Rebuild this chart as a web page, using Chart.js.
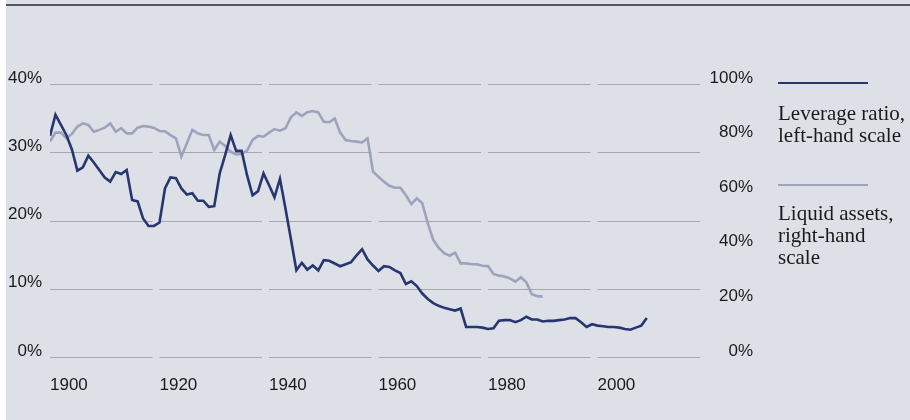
<!DOCTYPE html>
<html>
<head>
<meta charset="utf-8">
<script src="https://cdn.jsdelivr.net/npm/chart.js@4.4.1/dist/chart.umd.min.js"></script>
<style>
    html, body { margin: 0; padding: 0; background: #ffffff; }
    #wrap { position: relative; width: 910px; height: 420px; overflow: hidden; }
    #panel { position: absolute; left: 6px; top: 0; right: 0; bottom: 0; background: #dde0e7; }
    #rule { position: absolute; left: 6px; right: 0; top: 4px; height: 2px; background: #53575e; }
    #chart { position: absolute; left: 0; top: 0; }
    .swatch { position: absolute; left: 778px; width: 90px; height: 2px; }
    .keytext {
        position: absolute; left: 778px;
        font-family: "Liberation Serif", serif; font-size: 21px; line-height: 22px;
        color: #1a1a1a; white-space: nowrap;
    }
</style>
</head>
<body>
<div id="wrap">
    <div id="panel"></div>
    <div id="rule"></div>
    <canvas id="chart" width="910" height="420"></canvas>
    <div id="legend"></div>
</div>
<script>
// years of the annual observations
const years = [
    1900, 1901, 1902, 1903, 1904, 1905, 1906, 1907, 1908, 1909,
    1910, 1911, 1912, 1913, 1914, 1915, 1916, 1917, 1918, 1919,
    1920, 1921, 1922, 1923, 1924, 1925, 1926, 1927, 1928, 1929,
    1930, 1931, 1932, 1933, 1934, 1935, 1936, 1937, 1938, 1939,
    1940, 1941, 1942, 1943, 1944, 1945, 1946, 1947, 1948, 1949,
    1950, 1951, 1952, 1953, 1954, 1955, 1956, 1957, 1958, 1959,
    1960, 1961, 1962, 1963, 1964, 1965, 1966, 1967, 1968, 1969,
    1970, 1971, 1972, 1973, 1974, 1975, 1976, 1977, 1978, 1979,
    1980, 1981, 1982, 1983, 1984, 1985, 1986, 1987, 1988, 1989,
    1990, 1991, 1992, 1993, 1994, 1995, 1996, 1997, 1998, 1999,
    2000, 2001, 2002, 2003, 2004, 2005, 2006, 2007, 2008, 2009
];

// leverage ratio, % (left-hand scale)
const leverage = [
    32.4, 35.5, 34.0, 32.5, 30.4, 27.3, 27.8, 29.5, 28.5, 27.4,
    26.3, 25.7, 27.1, 26.8, 27.4, 23.0, 22.8, 20.3, 19.2, 19.2,
    19.7, 24.7, 26.3, 26.2, 24.7, 23.8, 24.0, 22.9, 22.9, 22.0,
    22.1, 26.9, 29.6, 32.5, 30.2, 30.2, 26.6, 23.7, 24.3, 26.9,
    25.2, 23.4, 26.1, 21.8, 17.3, 12.7, 13.8, 12.8, 13.4, 12.7,
    14.2, 14.1, 13.7, 13.3, 13.6, 13.9, 14.9, 15.8, 14.3, 13.4,
    12.6, 13.3, 13.2, 12.7, 12.3, 10.7, 11.1, 10.4, 9.3, 8.5,
    7.9, 7.5, 7.2, 7.0, 6.8, 7.1, 4.4, 4.4, 4.4, 4.3,
    4.1, 4.2, 5.3, 5.4, 5.4, 5.1, 5.4, 5.9, 5.5, 5.5,
    5.2, 5.3, 5.3, 5.4, 5.5, 5.7, 5.7, 5.1, 4.4, 4.8,
    4.6, 4.5, 4.4, 4.4, 4.3, 4.1, 4.0, 4.3, 4.6, 5.7
];

// liquid assets, % (right-hand scale), 1900-1990
const liquid = [
    78.9, 82.2, 82.2, 80.1, 81.7, 84.4, 85.6, 85.0, 82.5, 83.2,
    84.0, 85.6, 82.5, 83.8, 81.9, 81.9, 84.0, 84.6, 84.4, 83.9,
    82.8, 82.7, 81.3, 80.1, 73.4, 78.3, 83.2, 81.9, 81.3, 81.3,
    75.8, 78.9, 77.3, 75.2, 74.2, 74.4, 75.6, 79.5, 81.0, 80.7,
    82.2, 83.5, 82.9, 83.8, 87.8, 89.6, 88.3, 89.7, 90.1, 89.6,
    86.2, 86.0, 87.4, 82.2, 79.5, 79.1, 78.9, 78.6, 80.1, 67.9,
    66.0, 64.2, 62.7, 62.0, 62.0, 59.3, 56.0, 58.1, 56.3, 49.0,
    42.9, 40.0, 38.0, 37.1, 38.2, 34.3, 34.3, 34.0, 34.0, 33.4,
    33.3, 30.4, 29.8, 29.5, 28.8, 27.6, 29.2, 27.4, 23.0, 22.3,
    22.1
];

const xTicks = [1900, 1920, 1940, 1960, 1980, 2000];
const xEnd = 2020;
const leftTicks = [0, 10, 20, 30, 40];
const rightTicks = [0, 20, 40, 60, 80, 100];
const seriesNames = [['Leverage ratio,', 'left-hand scale'], ['Liquid assets,', 'right-hand', 'scale']];

document.addEventListener('DOMContentLoaded', function () {
    const colors = {
        navy: '#27366f',     // leverage line
        lilac: '#9ea3bd',    // liquid assets line
        grid: '#a6a7aa',
        text: '#1a1a1a'
    };
    const tickFont = { family: '"Liberation Sans", Arial, sans-serif', size: 17 };

    // horizontal grid, broken into one segment per 20-year block
    const gridSegments = {
        id: 'gridSegments',
        beforeDatasetsDraw(chart) {
            const c = chart.ctx;
            const x = chart.scales.x;
            const y = chart.scales.yLeft;
            const edges = xTicks.concat([xEnd]);
            c.save();
            c.strokeStyle = colors.grid;
            c.lineWidth = 1;
            leftTicks.forEach(function (v) {
                const py = Math.round(y.getPixelForValue(v)) + 0.5;
                for (let i = 0; i < xTicks.length; i++) {
                    c.beginPath();
                    c.moveTo(x.getPixelForValue(edges[i]), py);
                    c.lineTo(x.getPixelForValue(edges[i + 1]) - 7, py);
                    c.stroke();
                }
            });
            c.restore();
        }
    };

    const ctx = document.getElementById('chart').getContext('2d');
    const chart = new Chart(ctx, {
        type: 'line',
        data: {
            datasets: [{
                label: seriesNames[0].join(' '),
                data: leverage.map((v, i) => ({ x: years[i], y: v })),
                yAxisID: 'yLeft',
                borderColor: colors.navy,
                borderWidth: 2.6,
                pointRadius: 0,
                tension: 0
            }, {
                label: seriesNames[1].join(' '),
                data: liquid.map((v, i) => ({ x: years[i], y: v })),
                yAxisID: 'yRight',
                borderColor: colors.lilac,
                borderWidth: 2.6,
                pointRadius: 0,
                tension: 0
            }]
        },
        options: {
            responsive: false,
            animation: false,
            layout: { padding: { left: 0, right: 157, top: 84, bottom: 0 } },
            scales: {
                x: {
                    type: 'linear',
                    min: xTicks[0],
                    max: xEnd,
                    afterBuildTicks: s => { s.ticks = xTicks.map(v => ({ value: v })); },
                    afterFit: s => { s.height = 63; },
                    grid: { display: false, drawTicks: false },
                    border: { display: false },
                    ticks: {
                        align: 'start',
                        padding: 18,
                        font: tickFont,
                        color: colors.text,
                        callback: v => String(v)
                    }
                },
                yLeft: {
                    position: 'left',
                    min: 0,
                    max: 40,
                    afterBuildTicks: s => { s.ticks = leftTicks.map(v => ({ value: v })); },
                    afterFit: s => { s.width = 50; },
                    grid: { display: false, drawTicks: false },
                    border: { display: false },
                    ticks: {
                        padding: 8,
                        labelOffset: -6,
                        font: tickFont,
                        color: colors.text,
                        callback: v => v + '%'
                    }
                },
                yRight: {
                    position: 'right',
                    min: 0,
                    max: 100,
                    afterBuildTicks: s => { s.ticks = rightTicks.map(v => ({ value: v })); },
                    afterFit: s => { s.width = 46; },
                    grid: { display: false, drawTicks: false },
                    border: { display: false },
                    ticks: {
                        crossAlign: 'far',
                        padding: 0,
                        labelOffset: -6,
                        font: tickFont,
                        color: colors.text,
                        callback: v => v + '%'
                    }
                }
            },
            plugins: {
                legend: { display: false },
                tooltip: { enabled: false }
            }
        },
        plugins: [gridSegments]
    });

    // legend on the right: a short line above each label
    const legend = document.getElementById('legend');
    const swatchTops = [82, 184];
    const textTops = [102, 201.5];
    chart.data.datasets.forEach(function (ds, i) {
        const sw = document.createElement('div');
        sw.className = 'swatch';
        sw.style.top = swatchTops[i] + 'px';
        sw.style.background = ds.borderColor;
        legend.appendChild(sw);
        const tx = document.createElement('div');
        tx.className = 'keytext';
        tx.style.top = textTops[i] + 'px';
        tx.innerHTML = seriesNames[i].join('<br>');
        legend.appendChild(tx);
    });
});
</script>
</body>
</html>
